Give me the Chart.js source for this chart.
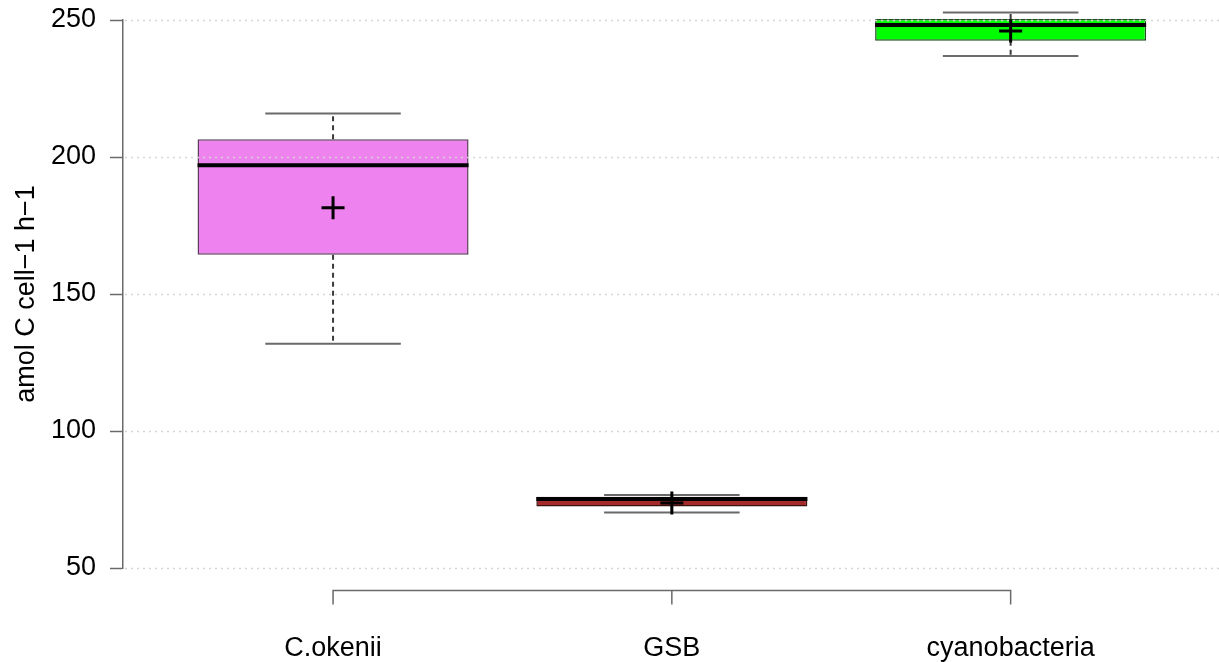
<!DOCTYPE html>
<html>
<head>
<meta charset="utf-8">
<script src="https://cdn.jsdelivr.net/npm/chart.js@4"></script>
<style>
  html, body { margin: 0; padding: 0; background: #fff; }
  canvas { display: block; }
</style>
</head>
<body>
<canvas id="boxChart" width="1219" height="662"></canvas>
<script>
// Carbon fixation per cell, one box per group
const categories = ['C.okenii', 'GSB', 'cyanobacteria'];
const whiskerLow = [131.8, 70.3, 236.9];
const q1 = [164.3, 72.4, 242.4];
const medians = [197.0, 75.2, 248.2];
const q3 = [206.5, 76.0, 250.4];
const whiskerHigh = [215.9, 76.6, 252.7];
const means = [181.5, 73.7, 246.0];
const yTicks = [50, 100, 150, 200, 250];

const fills = ['#ee82ee', '#a52a2a', '#00ff00'];
const borders = ['#5a3d5a', '#3a1212', '#1f4f1f'];
const FONT = 'Liberation Sans, Arial, Helvetica, sans-serif';

// whiskers, medians, means, grid and the R-style x bracket
const boxExtras = {
  id: 'boxExtras',
  afterDatasetsDraw(chart) {
    const ctx = chart.ctx;
    const x = chart.scales.x;
    const y = chart.scales.y;
    const area = chart.chartArea;

    ctx.save();
    // dotted grid over the boxes
    ctx.strokeStyle = '#d6d6d6';
    ctx.lineWidth = 1.5;
    ctx.setLineDash([2, 4]);
    yTicks.forEach(t => {
      const py = Math.round(y.getPixelForValue(t)) + 0.5;
      ctx.beginPath();
      ctx.moveTo(area.left + 2, py);
      ctx.lineTo(area.right, py);
      ctx.stroke();
    });

    categories.forEach((c, i) => {
      const cx = x.getPixelForValue(i + 1);
      const half = x.getPixelForValue(i + 1.4) - cx;
      const capHalf = half / 2;

      // dashed whisker stems
      ctx.strokeStyle = '#3a3a3a';
      ctx.lineWidth = 2;
      ctx.setLineDash([5, 4]);
      ctx.beginPath();
      ctx.moveTo(cx, y.getPixelForValue(q3[i]));
      ctx.lineTo(cx, y.getPixelForValue(whiskerHigh[i]));
      ctx.moveTo(cx, y.getPixelForValue(q1[i]));
      ctx.lineTo(cx, y.getPixelForValue(whiskerLow[i]));
      ctx.stroke();

      // caps
      ctx.setLineDash([]);
      ctx.strokeStyle = '#6a6a6a';
      ctx.lineWidth = 2;
      ctx.beginPath();
      [whiskerHigh[i], whiskerLow[i]].forEach(v => {
        const py = y.getPixelForValue(v);
        ctx.moveTo(cx - capHalf, py);
        ctx.lineTo(cx + capHalf, py);
      });
      ctx.stroke();

      // median
      ctx.strokeStyle = '#000';
      ctx.lineWidth = 4;
      ctx.beginPath();
      const pm = y.getPixelForValue(medians[i]);
      ctx.moveTo(cx - half, pm);
      ctx.lineTo(cx + half, pm);
      ctx.stroke();

      // mean cross
      const pmean = y.getPixelForValue(means[i]);
      ctx.lineWidth = 3;
      ctx.beginPath();
      ctx.moveTo(cx - 11.5, pmean);
      ctx.lineTo(cx + 11.5, pmean);
      ctx.moveTo(cx, pmean - 11.5);
      ctx.lineTo(cx, pmean + 11.5);
      ctx.stroke();
    });

    // x axis bracket below the plot
    const x1 = x.getPixelForValue(1);
    const x3 = x.getPixelForValue(categories.length);
    const by = area.bottom + 22.5;
    ctx.strokeStyle = '#6a6a6a';
    ctx.lineWidth = 1.5;
    ctx.beginPath();
    ctx.moveTo(x1, by + 14);
    ctx.lineTo(x1, by);
    ctx.lineTo(x3, by);
    ctx.lineTo(x3, by + 14);
    categories.forEach((c, i) => {
      if (i > 0 && i < categories.length - 1) {
        const px = x.getPixelForValue(i + 1);
        ctx.moveTo(px, by);
        ctx.lineTo(px, by + 14);
      }
    });
    ctx.stroke();
    ctx.restore();
  }
};

const ctx = document.getElementById('boxChart').getContext('2d');
const boxChart = new Chart(ctx, {
  type: 'bar',
  data: {
    datasets: [{
      data: categories.map((c, i) => ({ x: i + 1, y: [q1[i], q3[i]] })),
      backgroundColor: fills,
      borderColor: borders,
      borderWidth: 1.5,
      borderSkipped: false,
      barPercentage: 0.8,
      categoryPercentage: 1,
      clip: false
    }]
  },
  options: {
    responsive: false,
    animation: false,
    layout: { padding: { top: 20, right: 0, left: 0, bottom: 0 } },
    plugins: {
      legend: { display: false },
      tooltip: { enabled: false }
    },
    scales: {
      x: {
        type: 'linear',
        offset: false,
        min: 0.38,
        max: 3.615,
        afterBuildTicks: scale => {
          scale.ticks = categories.map((c, i) => ({ value: i + 1 }));
        },
        afterFit: scale => {
          scale.height = 94;
          scale.paddingLeft = 0;
          scale.paddingRight = 0;
        },
        ticks: {
          callback: v => categories[v - 1],
          font: { family: FONT, size: 27 },
          color: '#000',
          padding: 64,
          maxRotation: 0,
          autoSkip: false
        },
        grid: { display: false, drawTicks: false },
        border: { display: false }
      },
      y: {
        min: 50,
        max: 250,
        afterBuildTicks: scale => {
          scale.ticks = yTicks.map(v => ({ value: v }));
        },
        afterFit: scale => {
          scale.width = 123;
          scale.paddingTop = 0;
          scale.paddingBottom = 0;
        },
        ticks: {
          font: { family: FONT, size: 27 },
          color: '#000',
          padding: 14
        },
        grid: {
          drawOnChartArea: false,
          drawTicks: true,
          tickLength: 13,
          tickColor: '#6a6a6a',
          tickWidth: 1.5,
          color: '#6a6a6a'
        },
        border: { display: true, color: '#6a6a6a', width: 1.5 },
        title: {
          display: true,
          text: 'amol C cell\u22121 h\u22121',
          font: { family: FONT, size: 27 },
          color: '#000',
          padding: { top: 10, bottom: 0 }
        }
      }
    }
  },
  plugins: [boxExtras]
});
</script>
</body>
</html>
